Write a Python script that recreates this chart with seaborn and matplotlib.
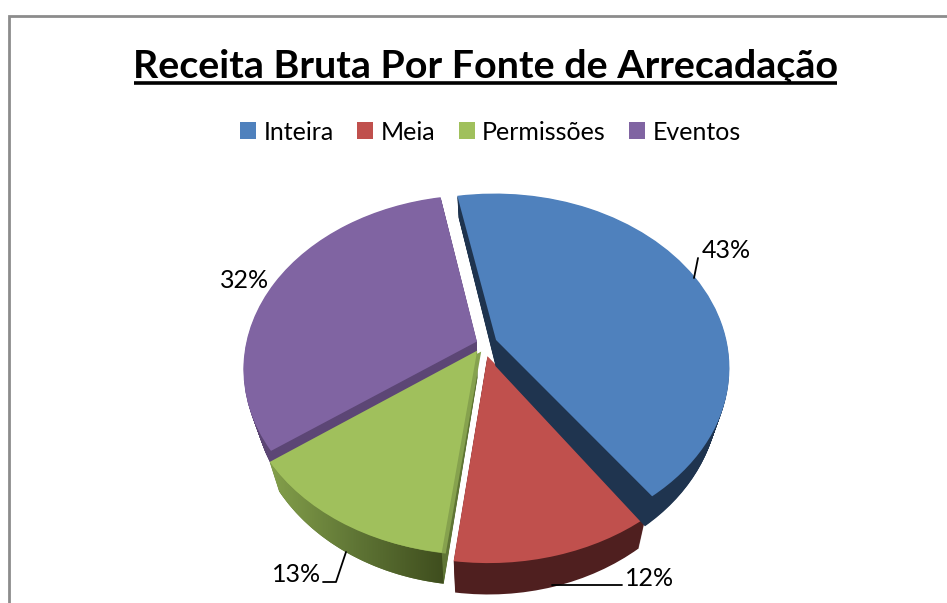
import numpy as np
import seaborn as sns
from matplotlib import pyplot as plt
from matplotlib.patches import Polygon, Rectangle
from matplotlib.transforms import Transform

title = 'Receita Bruta Por Fonte de Arrecadação'
fontes = ['Inteira', 'Meia', 'Permissões', 'Eventos']
valores = [43, 12, 13, 32]
cores = ['#4f81bd', '#c0504d', '#a0c05c', '#8064a2']
cores_lado = ['#1f344f', '#4f1f1f', '#5f7535', '#5c4675']

W, H = 947, 603
DEPTH = 31


class PieTilt(Transform):
    # perspectiva do pizza 3D: unidade do pie -> pixels
    input_dims = 2
    output_dims = 2

    def __init__(self, ox=0, oy=0, lado=0):
        super().__init__()
        self.ox = ox
        self.oy = oy
        self.lado = lado

    def transform_non_affine(self, values):
        x, y = values[:, 0], values[:, 1]
        w = 1 + 0.155 * y
        # a base converge para dentro e o lado fica mais fino no fundo
        return np.column_stack([486.5 + (231 * x / w + self.ox) * (1 - 0.0014 * self.lado),
                                H - 344 + 170 * y / w + self.oy - self.lado * (0.85 - 0.15 * y)])


sns.set_theme(style='white')
plt.rcParams['font.family'] = ['Lato', 'DejaVu Sans']

fig = plt.figure(figsize=(W / 100, H / 100), dpi=100)
ax = fig.add_axes([0, 0, 1, 1])
paleta = sns.color_palette(cores)
lado = sns.color_palette(cores_lado)
grad = sns.blend_palette(['#84a04b', '#5f7535', '#3f4e1e'], as_cmap=True)
explode = [0.045, 0.085, 0.045, 0.04]
desloc = [(0, 1), (-4, 2), (-4, 0), (-1, 0)]
# ordem de pintura: roxo, verde, vermelho, azul
ordem = {3: 1, 2: 2, 1: 3, 0: 4}
handles = None

for d in list(range(DEPTH, 0, -1)) + [0]:
    wedges, _ = ax.pie(valores, explode=explode, startangle=100.8, counterclock=False,
                       colors=paleta if d == 0 else lado, radius=1)
    for i, wg in enumerate(wedges):
        wg.set_transform(PieTilt(desloc[i][0], desloc[i][1], d) + ax.transData)
        wg.set_zorder(ordem[i] * 100 + DEPTH - d + 2)
        wg.set_linewidth(0)
    if d == 0:
        handles = wedges

# lado do verde com degrade, recortado na faixa entre o arco de cima e o de baixo
verde = handles[2]
t = np.radians(np.linspace(verde.theta1, verde.theta2, 60))
arco = np.column_stack([verde.center[0] + np.cos(t), verde.center[1] + np.sin(t)])
faixa_lado = np.vstack([PieTilt(*desloc[2]).transform(arco),
                        PieTilt(*desloc[2], DEPTH).transform(arco)[::-1]])
clip = Polygon(faixa_lado, closed=True, transform=ax.transData, facecolor='none', linewidth=0)
ax.add_patch(clip)
im = ax.imshow(np.linspace(0, 1, 64).reshape(1, -1), cmap=grad, aspect='auto',
               extent=(268, 444, 0, H), zorder=ordem[2] * 100 + DEPTH + 1)
im.set_clip_path(clip)

# filete claro na borda direita da fatia verde
faixa, _ = ax.pie(valores, explode=explode, startangle=100.8, counterclock=False,
                  colors=['none', 'none', '#86a24e', 'none'])
for i, wg in enumerate(faixa):
    wg.set_transform(PieTilt(desloc[2][0] + 4, desloc[2][1] - 1) + ax.transData)
    wg.set_zorder(ordem[2] * 100 + DEPTH + 1.5)
    wg.set_linewidth(0)

ax.set_xlim(0, W)
ax.set_ylim(0, H)
ax.set_aspect('auto')
ax.axis('off')

fig.add_artist(Rectangle((9 / W, -0.1), 1.1, 1 - 16 / H + 0.1, transform=fig.transFigure,
                         fill=False, edgecolor='#8c8c8c', linewidth=2))

ax.text(485.5, H - 78, title, fontsize=28.4, fontweight='bold', ha='center', va='baseline',
        color='black', zorder=1000)
ax.plot([134, 837], [H - 82.5, H - 82.5], color='black', lw=2.6, solid_capstyle='butt', zorder=1000)

leg = ax.legend(handles, fontes, ncol=4, loc='center', bbox_to_anchor=(490.5 / W, 1 - 132 / H),
                frameon=False, fontsize=18, handlelength=0.64, handleheight=0.64,
                handletextpad=0.28, columnspacing=0.95, borderpad=0, labelcolor='black')
leg.set_zorder(1000)

rotulos = [(726.5, 251, valores[0]), (245, 280, valores[3]), (296.5, 575, valores[2]), (650, 579, valores[1])]
for x, y, v in rotulos:
    ax.text(x, H - y, f'{v}%', fontsize=18, ha='center', va='center', color='black', zorder=1000)

guias = [([698, 694], [258, 278]), ([323, 336, 346], [582, 582, 552]), ([622, 552], [585, 585])]
for xs, ys in guias:
    ax.plot(xs, [H - v for v in ys], color='black', lw=1.3, zorder=1000)

ax.set_xlim(0, W)
ax.set_ylim(0, H)
plt.savefig('out.png', dpi=100)
